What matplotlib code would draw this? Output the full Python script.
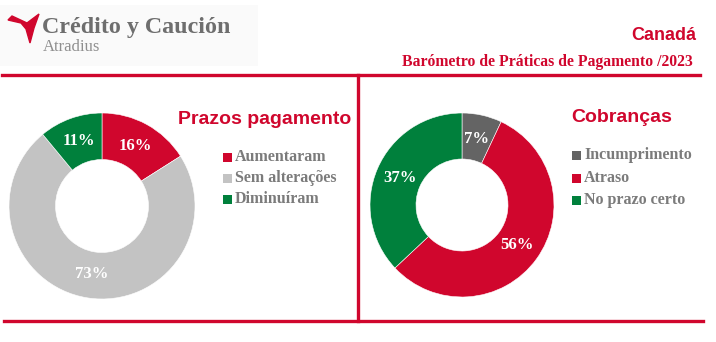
import numpy as np
import matplotlib.pyplot as plt
from matplotlib.patches import Polygon, Rectangle
from matplotlib.lines import Line2D

# payment terms (left donut)
terms_labels = ["Aumentaram", "Sem alterações", "Diminuíram"]
terms_values = [16, 73, 11]

# collections (right donut)
coll_labels = ["Incumprimento", "Atraso", "No prazo certo"]
coll_values = [7, 56, 37]

RED = "#d0062d"
GREEN = "#00803c"
LGRAY = "#c3c3c3"
DGRAY = "#646464"
TXT = "#7b7b7b"
SERIF = ["Liberation Serif", "DejaVu Serif"]
SANS = ["Liberation Sans", "DejaVu Sans"]

W, H = 716, 342
fig = plt.figure(figsize=(W / 100, H / 100), dpi=100)


def fx(x):
    return x / W


def fy(y):
    return 1 - y / H


def donut(cx, cy, r, values, colors):
    ax = fig.add_axes([fx(cx - r), fy(cy + r), 2 * r / W, 2 * r / H])
    ax.pie(values, colors=colors, startangle=90, counterclock=False, radius=1,
           wedgeprops=dict(width=0.5, edgecolor="white", linewidth=0.4))
    ax.set_xlim(-1, 1)
    ax.set_ylim(-1, 1)
    ax.set_aspect("equal")
    ax.axis("off")
    # percentage labels in the middle of the ring
    cum = np.cumsum([0] + values)
    total = sum(values)
    for v, a, b in zip(values, cum[:-1], cum[1:]):
        ang = np.deg2rad(90 - (a + b) / 2 / total * 360)
        ax.text(0.74 * np.cos(ang), 0.74 * np.sin(ang), f"{v}%", color="white",
                ha="center", va="center", fontsize=12, fontweight="bold", family=SERIF)
    return ax


donut(102, 206, 93, terms_values, [RED, LGRAY, GREEN])
donut(462, 205, 92, coll_values, [DGRAY, RED, GREEN])

# frame lines
fig.add_artist(Line2D([fx(2), fx(700)], [fy(75), fy(75)], color=RED, lw=2.4))
fig.add_artist(Line2D([fx(358), fx(358)], [fy(75), fy(321)], color=RED, lw=2.4))
fig.add_artist(Line2D([fx(4), fx(703)], [fy(321), fy(321)], color=RED, lw=2.4))

# logo
fig.add_artist(Rectangle((0, fy(66)), fx(258), 61 / H, transform=fig.transFigure,
                         facecolor="#fafafa", edgecolor="none"))
logo = [(8, 20), (21, 23), (26, 29), (30, 43), (34, 28), (39, 14), (27, 23), (12, 16)]
fig.add_artist(Polygon([(fx(x), fy(y)) for x, y in logo], closed=True,
                       transform=fig.transFigure, facecolor=RED, edgecolor=RED, lw=1))
fig.text(fx(42), fy(28), "Crédito y Caución", color="#6e6e6e", fontsize=17.3,
         fontweight="bold", family=SERIF, va="center", ha="left")
fig.text(fx(43), fy(47), "Atradius", color="#8f8f8f", fontsize=12,
         family=SERIF, va="center", ha="left")

# headings
fig.text(fx(696), fy(36), "Canadá", color=RED, fontsize=13, fontweight="bold",
         family=SANS, ha="right", va="center")
fig.text(fx(693), fy(62), "Barómetro de Práticas de Pagamento /2023", color=RED,
         fontsize=11.3, fontweight="bold", family=SERIF, ha="right", va="center")

fig.text(fx(178), fy(120), "Prazos pagamento", color=RED, fontsize=14,
         fontweight="bold", family=SANS, ha="left", va="center")
fig.text(fx(571), fy(118), "Cobranças", color=RED, fontsize=14,
         fontweight="bold", family=SANS, ha="left", va="center")


def legend(x, ys, labels, colors):
    for y, lab, c in zip(ys, labels, colors):
        fig.add_artist(Rectangle((fx(x), fy(y + 5)), 9 / W, 9 / H,
                                 transform=fig.transFigure, facecolor=c, edgecolor="none"))
        fig.text(fx(x + 12), fy(y), lab, color=TXT, fontsize=11.5, fontweight="bold",
                 family=SERIF, ha="left", va="center")


legend(223, [157, 178, 199], terms_labels, [RED, LGRAY, GREEN])
legend(572, [155, 178, 200], coll_labels, [DGRAY, RED, GREEN])

fig.savefig("out.png", dpi=100, facecolor="white")
